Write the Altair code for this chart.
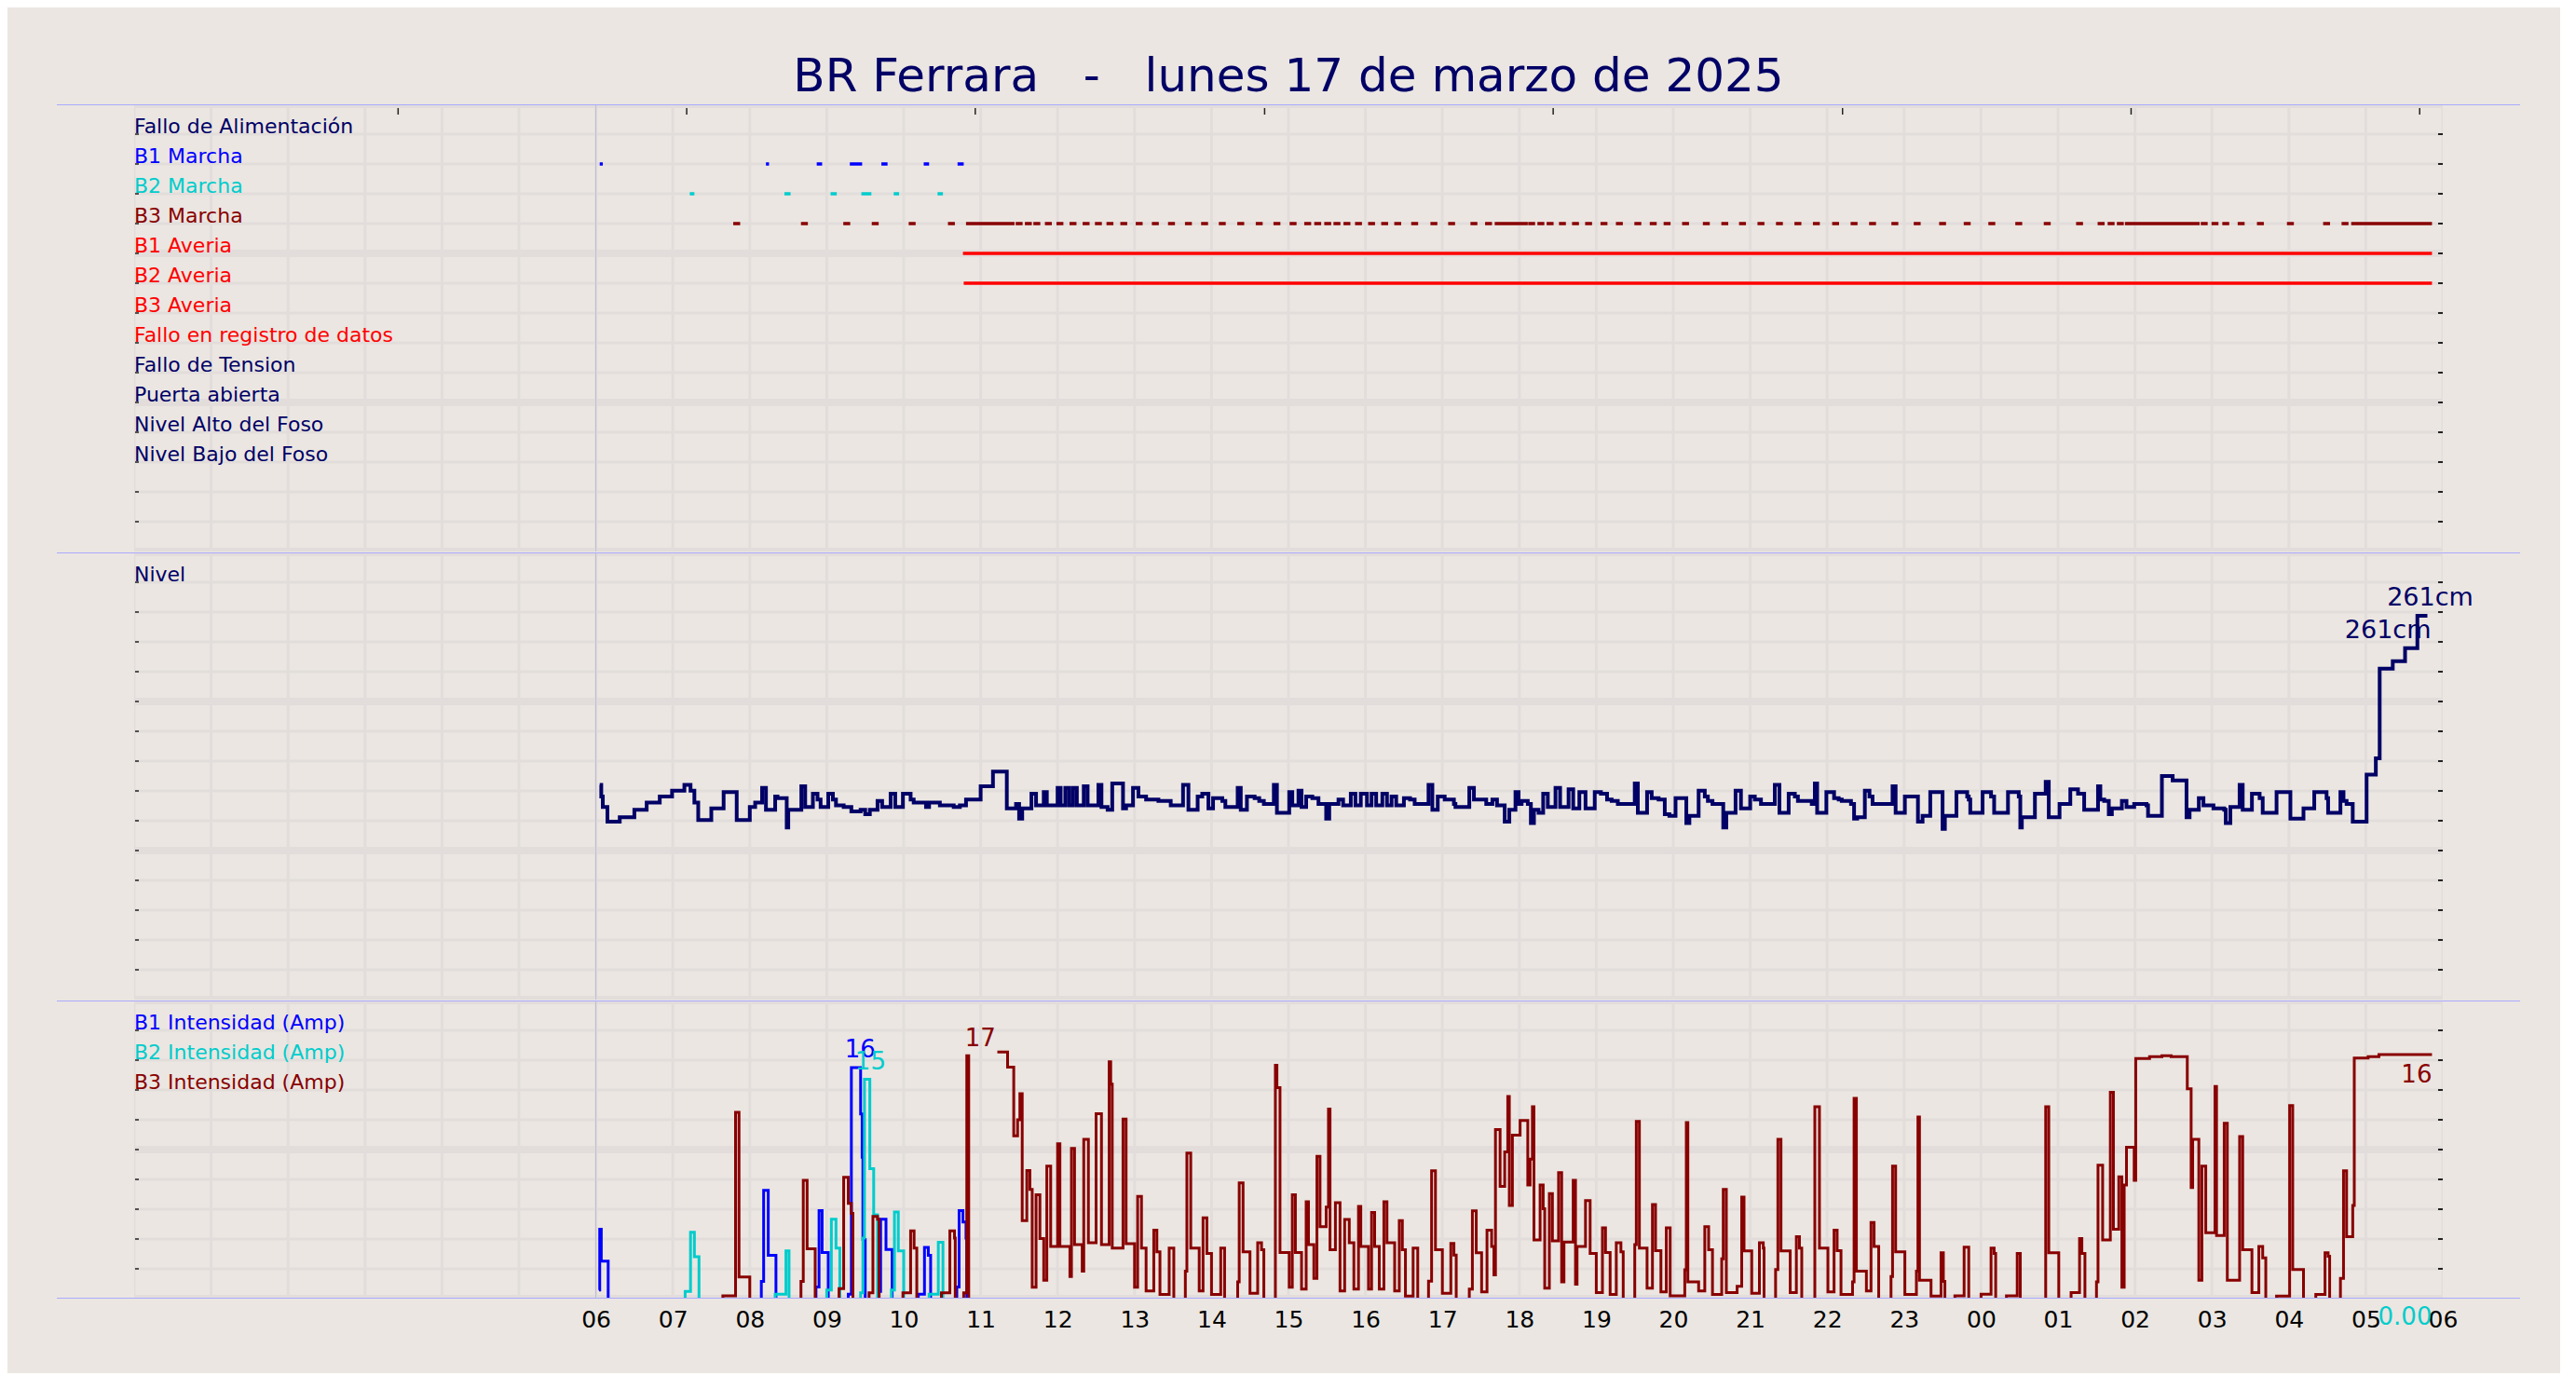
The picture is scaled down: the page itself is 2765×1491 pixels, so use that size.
import altair as alt
import pandas as pd

FONT = "DejaVu Sans"
W = 2478
H_TOP, H_MID, H_BOT = 480, 480, 320
BG = "#EBE6E1"
GRID = "#E2DDDB"
SEP = "#AAAAFF"
LINE06 = "#BCBCD4"
TICK = "#222222"
NAVY = "#000066"
B1C, B2C, B3C, RED = "#0000FF", "#00CCCC", "#880000", "#FF0000"

title_text = "BR Ferrara\u00a0\u00a0\u00a0-\u00a0\u00a0\u00a0lunes 17 de marzo de 2025"

# hours counted from 00:00 of the 17th (x domain 0..30 = 00:00 .. 06:00 next day)
hour_grid = list(range(0, 31))
hour_labels = list(range(6, 31))
top_ticks = [3.43, 7.18, 10.93, 14.69, 18.44, 22.20, 25.95, 29.70]

event_names = ["Fallo de Alimentación", "B1 Marcha", "B2 Marcha", "B3 Marcha",
               "B1 Averia", "B2 Averia", "B3 Averia", "Fallo en registro de datos",
               "Fallo de Tension", "Puerta abierta", "Nivel Alto del Foso", "Nivel Bajo del Foso"]
event_colors = [NAVY, B1C, B2C, B3C, RED, RED, RED, RED, NAVY, NAVY, NAVY, NAVY]

b1_marcha = [(6.05, 6.09), (8.21, 8.25), (8.87, 8.94), (9.30, 9.46), (9.71, 9.79), (10.26, 10.33), (10.70, 10.78)]
b2_marcha = [(7.22, 7.28), (8.45, 8.53), (9.05, 9.13), (9.45, 9.58), (9.87, 9.94), (10.44, 10.51)]
b3_marcha_runs = [(10.81, 11.44), (17.68, 18.11), (25.87, 26.84), (28.81, 29.86)]
b3_marcha_dots = [7.83, 8.71, 9.26, 9.63, 10.11, 10.62, 11.50, 11.62, 11.73, 11.88, 12.03, 12.20, 12.37,
                  12.53, 12.68, 12.86, 13.06, 13.27, 13.48, 13.70, 13.91, 14.14, 14.38, 14.62, 14.85,
                  15.06, 15.25, 15.38, 15.51, 15.63, 15.76, 15.91, 16.08, 16.25, 16.42, 16.64, 16.89,
                  17.12, 17.41, 17.60, 18.16, 18.28, 18.40, 18.56, 18.73, 18.90, 19.10, 19.30, 19.54,
                  19.74, 19.92, 20.16, 20.43, 20.67, 20.90, 21.14, 21.38, 21.62, 21.86, 22.11, 22.35,
                  22.59, 22.88, 23.17, 23.50, 23.82, 24.14, 24.49, 24.86, 25.28, 25.56, 25.69, 25.81,
                  26.90, 27.04, 27.18, 27.38, 27.63, 28.02, 28.49, 28.73]
DOT_H = 0.09
b1_averia = [(10.77, 29.86)]
b2_averia = [(10.78, 29.86)]

# Nivel (cm), step series
nivel = [
    (6.05, 146), (6.07, 138), (6.09, 131), (6.15, 121), (6.31, 124), (6.50, 129), (6.66, 134), (6.83, 138),
    (6.99, 142), (7.15, 146), (7.23, 142), (7.28, 134), (7.33, 122), (7.50, 130), (7.66, 141), (7.83, 122),
    (8.00, 131), (8.07, 134), (8.16, 144), (8.21, 129), (8.33, 138), (8.36, 137), (8.48, 117), (8.50, 129),
    (8.67, 145), (8.72, 131), (8.82, 140), (8.88, 136), (8.92, 131), (9.02, 140), (9.08, 136), (9.12, 132),
    (9.22, 131), (9.32, 128), (9.44, 129), (9.50, 126), (9.56, 129), (9.66, 135), (9.72, 131), (9.83, 140),
    (9.89, 131), (9.99, 140), (10.09, 136), (10.13, 134), (10.29, 131), (10.33, 134), (10.47, 132),
    (10.65, 131), (10.73, 132), (10.81, 136), (11.00, 145), (11.16, 155), (11.34, 130), (11.46, 133),
    (11.50, 123), (11.54, 130), (11.66, 140), (11.72, 132), (11.82, 141), (11.86, 132),
    (11.94, 132), (12.00, 144), (12.04, 132), (12.10, 144), (12.15, 132), (12.20, 144), (12.25, 132),
    (12.34, 145), (12.39, 132), (12.53, 146), (12.57, 131), (12.65, 129), (12.71, 147), (12.85, 130),
    (12.89, 132), (12.98, 144), (13.05, 138), (13.15, 136), (13.31, 135), (13.47, 132), (13.63, 146),
    (13.70, 129), (13.82, 138), (13.88, 140), (13.96, 130), (14.02, 137), (14.14, 135), (14.18, 131),
    (14.34, 144), (14.38, 129), (14.46, 138), (14.56, 137), (14.62, 135), (14.68, 133), (14.81, 146),
    (14.85, 127), (15.01, 141), (15.05, 132), (15.13, 142), (15.17, 131), (15.23, 138), (15.31, 137),
    (15.39, 133), (15.49, 123), (15.53, 133), (15.65, 136), (15.71, 132), (15.81, 140), (15.87, 132),
    (15.94, 140), (16.02, 132), (16.08, 140), (16.14, 132), (16.22, 140), (16.28, 132), (16.34, 138),
    (16.40, 132), (16.50, 137), (16.58, 136), (16.64, 133), (16.82, 146), (16.87, 129), (16.94, 138),
    (17.03, 136), (17.15, 133), (17.17, 131), (17.35, 144), (17.41, 136), (17.57, 133), (17.65, 136),
    (17.71, 132), (17.81, 121), (17.87, 129), (17.95, 141),
    (17.99, 133), (18.03, 135), (18.11, 133), (18.15, 120), (18.19, 129), (18.25, 127), (18.31, 140),
    (18.37, 131), (18.47, 144), (18.53, 131), (18.64, 143), (18.70, 130), (18.78, 141), (18.86, 130),
    (18.98, 141), (19.06, 140), (19.14, 136), (19.20, 135), (19.28, 133), (19.50, 147), (19.54, 127),
    (19.66, 141), (19.72, 137), (19.81, 136), (19.89, 126), (19.95, 125), (20.03, 137), (20.17, 120),
    (20.21, 125), (20.33, 142), (20.41, 138), (20.45, 135), (20.51, 133), (20.65, 117), (20.69, 127),
    (20.81, 142), (20.88, 130), (21.00, 138), (21.06, 136), (21.14, 133), (21.32, 146), (21.38, 127),
    (21.50, 140), (21.58, 138), (21.62, 135), (21.80, 133), (21.84, 147), (21.87, 127), (21.99, 141),
    (22.09, 137), (22.15, 136), (22.19, 135), (22.31, 133), (22.35, 123), (22.39, 124), (22.49, 142),
    (22.55, 138), (22.59, 133), (22.85, 145), (22.89, 127), (23.01, 138), (23.18, 121), (23.24, 125),
    (23.34, 141), (23.50, 116), (23.53, 125), (23.68, 141), (23.82, 138), (23.84, 136), (23.86, 127),
    (24.02, 141),
    (24.13, 138), (24.17, 127), (24.35, 141), (24.49, 138), (24.51, 117), (24.53, 124), (24.70, 140),
    (24.84, 148), (24.88, 124), (25.02, 133), (25.16, 143), (25.26, 140), (25.34, 129), (25.52, 145),
    (25.55, 136), (25.60, 135), (25.66, 126), (25.70, 130), (25.83, 135), (25.89, 131), (25.99, 133),
    (26.15, 132), (26.17, 125), (26.35, 152), (26.49, 149), (26.67, 124), (26.71, 129), (26.83, 137),
    (26.89, 132), (27.02, 130), (27.16, 129), (27.18, 120), (27.24, 131), (27.36, 146), (27.40, 129),
    (27.52, 140), (27.62, 137), (27.66, 127), (27.84, 141), (28.02, 123), (28.19, 130), (28.33, 141),
    (28.49, 137), (28.51, 127), (28.67, 141), (28.71, 135), (28.75, 133), (28.83, 121),
    (29.01, 153), (29.13, 164), (29.18, 225), (29.35, 230), (29.51, 239), (29.67, 261), (29.80, 261),
]

# Intensities (A): 0 = pump off (line hidden), None = no data
b1_amp = [(6.03, None), (6.04, 0.6), (6.05, 4.8), (6.07, 2.6), (6.16, 0), (8.15, 1.2), (8.18, 7.5), (8.24, 3.0),
          (8.34, 0), (8.86, 0.8), (8.90, 6.1), (8.94, 3.2), (9.02, 0), (9.28, 0.3), (9.32, 16.0), (9.44, 12.8),
          (9.46, 9.8), (9.47, 4.1), (9.50, 0), (9.68, 0.5), (9.70, 5.5), (9.77, 3.4), (9.85, 0), (10.19, 0.3),
          (10.27, 3.55), (10.32, 3.0), (10.35, 0), (10.69, 0.8), (10.72, 6.1), (10.77, 5.3), (10.81, 4.2),
          (10.82, 0)]
b2_amp = [(7.16, 0.5), (7.23, 4.6), (7.28, 2.9), (7.34, 0), (8.33, 0.3), (8.47, 3.3), (8.51, 0), (9.00, 0.6),
          (9.06, 5.5), (9.12, 3.5), (9.17, 0), (9.44, 0.4), (9.47, 4.2), (9.49, 15.2), (9.56, 9.0), (9.61, 5.8),
          (9.66, 0), (9.84, 0.6), (9.88, 6.0), (9.93, 3.3), (10.00, 0), (10.33, 0.3), (10.45, 3.9), (10.51, 0)]
b3_amp = [
    (7.65, 0.2), (7.815, 12.9), (7.86, 1.5), (8.00, 0), (8.665, 1.2), (8.695, 8.2), (8.745, 3.45), (8.85, 0),
    (9.16, 0.7), (9.22, 8.4), (9.28, 6.6), (9.32, 5.9), (9.34, 0), (9.55, 0.4), (9.60, 5.7), (9.66, 5.5),
    (9.68, 0), (9.99, 0.4), (10.09, 4.7), (10.135, 3.5), (10.17, 0), (10.49, 0.4), (10.60, 4.7), (10.66, 4.2),
    (10.67, 0), (10.78, 0.4), (10.82, 16.83), (10.845, 0), (11.0, None),
    (11.217, 17.08), (11.35, 16.04), (11.43, 11.28), (11.48, 12.39), (11.51, 14.19), (11.54, 5.40),
    (11.60, 8.88), (11.64, 7.57), (11.67, 0.79), (11.72, 7.20), (11.77, 4.17), (11.82, 1.28), (11.86, 9.18),
    (11.91, 3.62), (12.00, 10.73), (12.03, 3.62), (12.16, 1.53), (12.18, 10.41), (12.22, 3.75), (12.32, 1.90),
    (12.34, 11.03), (12.40, 3.87), (12.50, 12.81), (12.57, 3.75), (12.67, 16.41), (12.69, 14.86), (12.71, 3.50),
    (12.85, 12.44), (12.89, 3.80), (13.00, 0.79), (13.04, 7.08), (13.09, 3.50), (13.15, 0.54), (13.25, 4.74),
    (13.29, 3.25), (13.33, 0.29), (13.45, 3.50), (13.51, 0), (13.66, 1.90), (13.68, 10.09), (13.73, 3.50),
    (13.84, 0.54), (13.89, 5.60), (13.94, 3.13), (14.00, 0.29), (14.12, 3.50), (14.17, 0), (14.34, 1.16),
    (14.36, 8.02), (14.41, 3.25), (14.50, 0.37), (14.60, 3.87), (14.65, 3.38), (14.68, 0), (14.83, 16.17),
    (14.85, 14.61), (14.89, 3.20), (15.01, 0.79), (15.05, 7.20), (15.09, 3.20), (15.17, 0.66), (15.23, 6.71),
    (15.26, 3.75), (15.33, 1.40), (15.37, 9.85), (15.41, 4.98), (15.49, 6.34), (15.52, 13.13), (15.54, 3.38),
    (15.61, 6.64), (15.67, 0.54), (15.73, 5.48), (15.79, 3.87), (15.85, 0.66), (15.91, 6.39), (15.94, 3.62),
    (16.04, 0.66), (16.08, 5.97), (16.12, 3.62), (16.18, 0.66), (16.24, 6.71), (16.28, 3.87), (16.38, 0.54),
    (16.44, 5.40), (16.48, 3.38), (16.52, 0.17), (16.62, 3.50), (16.68, 0), (16.82, 1.21), (16.86, 8.86),
    (16.91, 3.38), (17.00, 0.37), (17.11, 3.82), (17.15, 3.01), (17.18, 0), (17.35, 0.66), (17.39, 6.09),
    (17.44, 3.18), (17.51, 0.46), (17.58, 4.74), (17.64, 3.62), (17.67, 1.65), (17.69, 11.72), (17.75, 7.77),
    (17.81, 10.17), (17.85, 14.00), (17.87, 6.46), (17.91, 11.33), (18.01, 12.34), (18.11, 7.87), (18.14, 9.67),
    (18.17, 13.30), (18.19, 4.07), (18.27, 7.87), (18.31, 6.22), (18.33, 0.72), (18.39, 7.28), (18.43, 4.00),
    (18.51, 8.73), (18.55, 1.16), (18.58, 3.92), (18.70, 8.19), (18.73, 1.0), (18.75, 3.62), (18.86, 6.79),
    (18.92, 3.13), (19.00, 0.42), (19.08, 4.91), (19.12, 3.20), (19.18, 0.29), (19.26, 3.87), (19.32, 3.25),
    (19.35, 0), (19.50, 3.75), (19.52, 12.27), (19.56, 3.50), (19.66, 0.72), (19.73, 6.51), (19.77, 3.33),
    (19.84, 0.46), (19.91, 4.91), (19.96, 0.2), (20.15, 2.0), (20.17, 12.19), (20.19, 1.16), (20.33, 0.54),
    (20.41, 4.98), (20.46, 3.38), (20.51, 0.29), (20.63, 2.76), (20.65, 7.57), (20.69, 0.42), (20.83, 0.86),
    (20.89, 7.03), (20.92, 3.30), (21.02, 0.37), (21.12, 3.87), (21.17, 3.50), (21.18, 0), (21.33, 2.02),
    (21.36, 11.03), (21.40, 3.30), (21.52, 0.42), (21.60, 4.29), (21.64, 3.50), (21.67, 0), (21.84, 13.30),
    (21.90, 3.50), (22.01, 0.46), (22.09, 4.74), (22.13, 3.33), (22.18, 0.29), (22.33, 1.16), (22.35, 13.87),
    (22.38, 1.90), (22.51, 0.54), (22.57, 5.28), (22.61, 3.62), (22.67, 0), (22.83, 1.53), (22.85, 9.18),
    (22.89, 3.25), (23.01, 0.29), (23.16, 1.90), (23.18, 12.59), (23.20, 1.28), (23.35, 0.17), (23.48, 3.18),
    (23.51, 1.2), (23.53, 0), (23.66, 0.2), (23.78, 3.57), (23.84, 0), (24.00, 0.3), (24.13, 3.50),
    (24.17, 3.13), (24.19, 0), (24.33, 0.2), (24.47, 3.13), (24.51, 0), (24.84, 13.30), (24.88, 3.18),
    (25.01, 0), (25.17, 0.42), (25.28, 4.17), (25.31, 3.13), (25.35, 0), (25.50, 1.16), (25.52, 9.25),
    (25.58, 4.07), (25.68, 14.29), (25.72, 4.81), (25.79, 8.44), (25.83, 0.79), (25.86, 7.87), (25.89, 10.49),
    (25.99, 8.19), (26.01, 16.63), (26.19, 16.76), (26.35, 16.83), (26.47, 16.76), (26.68, 14.54),
    (26.73, 7.70), (26.75, 11.03), (26.83, 1.28), (26.87, 9.18), (26.92, 4.56), (27.04, 14.69), (27.06, 4.37),
    (27.16, 12.14), (27.20, 1.28), (27.36, 11.23), (27.40, 3.38), (27.52, 0.42), (27.61, 3.62), (27.66, 2.83),
    (27.70, 0), (27.84, 0.17), (28.01, 13.38), (28.05, 2.02), (28.19, 0), (28.35, 0.29), (28.47, 3.18),
    (28.51, 2.93), (28.53, 0), (28.67, 1.40), (28.71, 8.86), (28.75, 4.29), (28.83, 6.46), (28.85, 16.66),
    (29.03, 16.76), (29.17, 16.91), (29.86, 16.91),
]

# value annotations: (hour, value, text, color, align, dx, dy)
amp_labels = [
    (9.32, 16.0, "16", B1C, "left", -7, -11),
    (9.49, 15.2, "15", B2C, "left", -10, -10),
    (10.82, 16.83, "17", B3C, "left", -2, -10),
    (29.86, 16.91, "16", B3C, "right", 0, 30),
    (29.86, 0.0, "0.00", B2C, "right", 0, 28),
]
nivel_labels = [
    (29.80, 261, "261cm", "center", 3, -11),
    (29.80, 261, "261cm", "right", 4, 24),
]

# ------------------------------------------------------------------
XS = alt.Scale(domain=[0, 30], nice=False, zero=False)
BOTTOM_AXIS = alt.Axis(values=hour_labels,
                       labelExpr="(datum.value % 24 < 10 ? '0' : '') + (datum.value % 24)",
                       labelFontSize=25, labelFont=FONT, labelColor="#000000", labelPadding=10,
                       labelFlush=False, labelOverlap=False, ticks=False, domain=False, grid=False,
                       title=None)
one = pd.DataFrame({"k": [0]})


def Xq(field, axis=None):
    return alt.X(f"{field}:Q", scale=XS, axis=axis)


def base_layers(yscale, ymax, nrows, xaxis=None):
    vals = [k * ymax / nrows for k in range(nrows + 1)]
    thin = pd.DataFrame({"v": [v for k, v in enumerate(vals) if k % 5]})
    thick = pd.DataFrame({"v": [v for k, v in enumerate(vals) if k % 5 == 0]})
    inner = pd.DataFrame({"v": vals[1:-1]})
    Y = alt.Y("v:Q", scale=yscale, axis=None)
    return [
        alt.Chart(pd.DataFrame({"h": hour_grid})).mark_rule(color=GRID, strokeWidth=3, clip=True)
        .encode(x=Xq("h", xaxis)),
        alt.Chart(thin).mark_rule(color=GRID, strokeWidth=3, clip=True).encode(y=Y),
        alt.Chart(thick).mark_rule(color=GRID, strokeWidth=8, clip=True).encode(y=Y),
        alt.Chart(pd.DataFrame({"h": [6]})).mark_rule(color=LINE06, strokeWidth=1, clip=True)
        .encode(x=Xq("h", xaxis)),
        alt.Chart(inner).mark_rule(color=TICK, strokeWidth=1.5, clip=True)
        .encode(y=Y, x=alt.value(1), x2=alt.value(5)),
        alt.Chart(inner).mark_rule(color=TICK, strokeWidth=2, clip=True)
        .encode(y=Y, x=alt.value(W - 5), x2=alt.value(W)),
    ]


def sep(y):
    return alt.Chart(one).mark_rule(color=SEP, strokeWidth=1.2).encode(
        x=alt.value(-83), x2=alt.value(W + 83), y=alt.value(y))


def step_rows(points, name):
    rows, cur, state, seg = [], [], "zero", [0]

    def close():
        if cur:
            for t, v in cur:
                rows.append({"h": t, "a": v, "seg": f"{name}{seg[0]}", "i": len(rows)})
            seg[0] += 1
        cur.clear()

    for t, v in points:
        if v is None:
            if cur:
                cur.append((t, cur[-1][1]))
            close()
            state = "gap"
        elif v == 0:
            if cur:
                cur.append((t, 0.0))
            close()
            state = "zero"
        else:
            if not cur and state == "zero":
                cur.append((t, 0.0))
            cur.append((t, v))
    close()
    return pd.DataFrame(rows)


# ---------------- top panel: events ----------------
YT = alt.Scale(domain=[0, 15], reverse=True, nice=False, zero=False)
ev = []
for s, e in b1_marcha:
    ev.append({"s": s, "e": e, "row": 2, "c": B1C})
for s, e in b2_marcha:
    ev.append({"s": s, "e": e, "row": 3, "c": B2C})
for s, e in b3_marcha_runs:
    ev.append({"s": s, "e": e, "row": 4, "c": B3C})
for c in b3_marcha_dots:
    ev.append({"s": c - DOT_H / 2, "e": c + DOT_H / 2, "row": 4, "c": B3C})
for s, e in b1_averia:
    ev.append({"s": s, "e": e, "row": 5, "c": RED})
for s, e in b2_averia:
    ev.append({"s": s, "e": e, "row": 6, "c": RED})
ev_df = pd.DataFrame(ev)
lab_df = pd.DataFrame({"row": list(range(1, 13)), "label": event_names, "color": event_colors})

top = alt.layer(
    *base_layers(YT, 15, 15),
    alt.Chart(pd.DataFrame({"h": top_ticks})).mark_rule(color=TICK, strokeWidth=1.5)
    .encode(x=Xq("h"), y=alt.value(4), y2=alt.value(11)),
    alt.Chart(ev_df).mark_rule(strokeWidth=3.5, strokeCap="butt", clip=True).encode(
        x=Xq("s"), x2="e:Q", y=alt.Y("row:Q", scale=YT, axis=None),
        color=alt.Color("c:N", scale=None)),
    alt.Chart(lab_df).mark_text(align="left", baseline="alphabetic", fontSize=22, font=FONT, dy=-1).encode(
        x=alt.value(0), y=alt.Y("row:Q", scale=YT, axis=None), text="label:N",
        color=alt.Color("color:N", scale=None)),
    alt.Chart(one).mark_text(text=title_text, fontSize=50, font=FONT, color=NAVY, align="center",
                             baseline="alphabetic").encode(x=alt.value(W / 2), y=alt.value(-14)),
    alt.Chart(one).mark_rule(strokeWidth=0, strokeOpacity=0).encode(
        x=alt.value(-136), x2=alt.value(-135), y=alt.value(-104), y2=alt.value(-104)),
    sep(0.5),
).properties(width=W, height=H_TOP)

# ---------------- middle panel: level ----------------
YM = alt.Scale(domain=[0, 304], nice=False, zero=False)
niv_df = pd.DataFrame({"h": [p[0] for p in nivel], "cm": [p[1] for p in nivel],
                       "i": list(range(len(nivel)))})
mid_layers = base_layers(YM, 304, 15) + [
    alt.Chart(niv_df).mark_line(interpolate="step-after", color=NAVY, strokeWidth=4, clip=True).encode(
        x=Xq("h"), y=alt.Y("cm:Q", scale=YM, axis=None), order="i:Q"),
    alt.Chart(one).mark_text(text="Nivel", align="left", baseline="alphabetic", fontSize=22, font=FONT,
                             color=NAVY).encode(x=alt.value(0), y=alt.value(31)),
]
for h, v, t, al, dx, dy in nivel_labels:
    mid_layers.append(
        alt.Chart(pd.DataFrame({"h": [h], "cm": [v]})).mark_text(
            text=t, align=al, baseline="alphabetic", fontSize=27, font=FONT, color=NAVY, dx=dx, dy=dy)
        .encode(x=Xq("h"), y=alt.Y("cm:Q", scale=YM, axis=None)))
mid_layers.append(sep(0.5))
mid = alt.layer(*mid_layers).properties(width=W, height=H_MID)

# ---------------- bottom panel: intensities ----------------
YB = alt.Scale(domain=[0, 20.65], nice=False, zero=False)
bot_layers = base_layers(YB, 20.65, 10, BOTTOM_AXIS)
for pts, name, col in [(b1_amp, "b1", B1C), (b2_amp, "b2", B2C), (b3_amp, "b3", B3C)]:
    df = step_rows(pts, name)
    bot_layers.append(
        alt.Chart(df).mark_line(interpolate="step-after", color=col, strokeWidth=3, clip=True).encode(
            x=Xq("h", BOTTOM_AXIS), y=alt.Y("a:Q", scale=YB, axis=None), detail="seg:N", order="i:Q"))
for i, (name, col) in enumerate([("B1 Intensidad (Amp)", B1C), ("B2 Intensidad (Amp)", B2C),
                                 ("B3 Intensidad (Amp)", B3C)]):
    bot_layers.append(
        alt.Chart(one).mark_text(text=name, align="left", baseline="alphabetic", fontSize=22, font=FONT,
                                 color=col).encode(x=alt.value(0), y=alt.value(31 + 32 * i)))
for h, v, t, col, al, dx, dy in amp_labels:
    bot_layers.append(
        alt.Chart(pd.DataFrame({"h": [h], "a": [v]})).mark_text(
            text=t, align=al, baseline="alphabetic", fontSize=26, font=FONT, color=col, dx=dx, dy=dy)
        .encode(x=Xq("h", BOTTOM_AXIS), y=alt.Y("a:Q", scale=YB, axis=None)))
bot_layers += [
    sep(0.5),
    sep(H_BOT - 0.5),
    alt.Chart(one).mark_rule(strokeWidth=0, strokeOpacity=0).encode(
        x=alt.value(2603), x2=alt.value(2604), y=alt.value(H_BOT + 80), y2=alt.value(H_BOT + 80)),
]
bot = alt.layer(*bot_layers).properties(width=W, height=H_BOT)

chart = alt.vconcat(top, mid, bot, spacing=0).properties(
    background=BG, padding=0
).configure_view(stroke="transparent", strokeWidth=0)

chart.save("out.html", embed_options={"renderer": "svg", "actions": False})
